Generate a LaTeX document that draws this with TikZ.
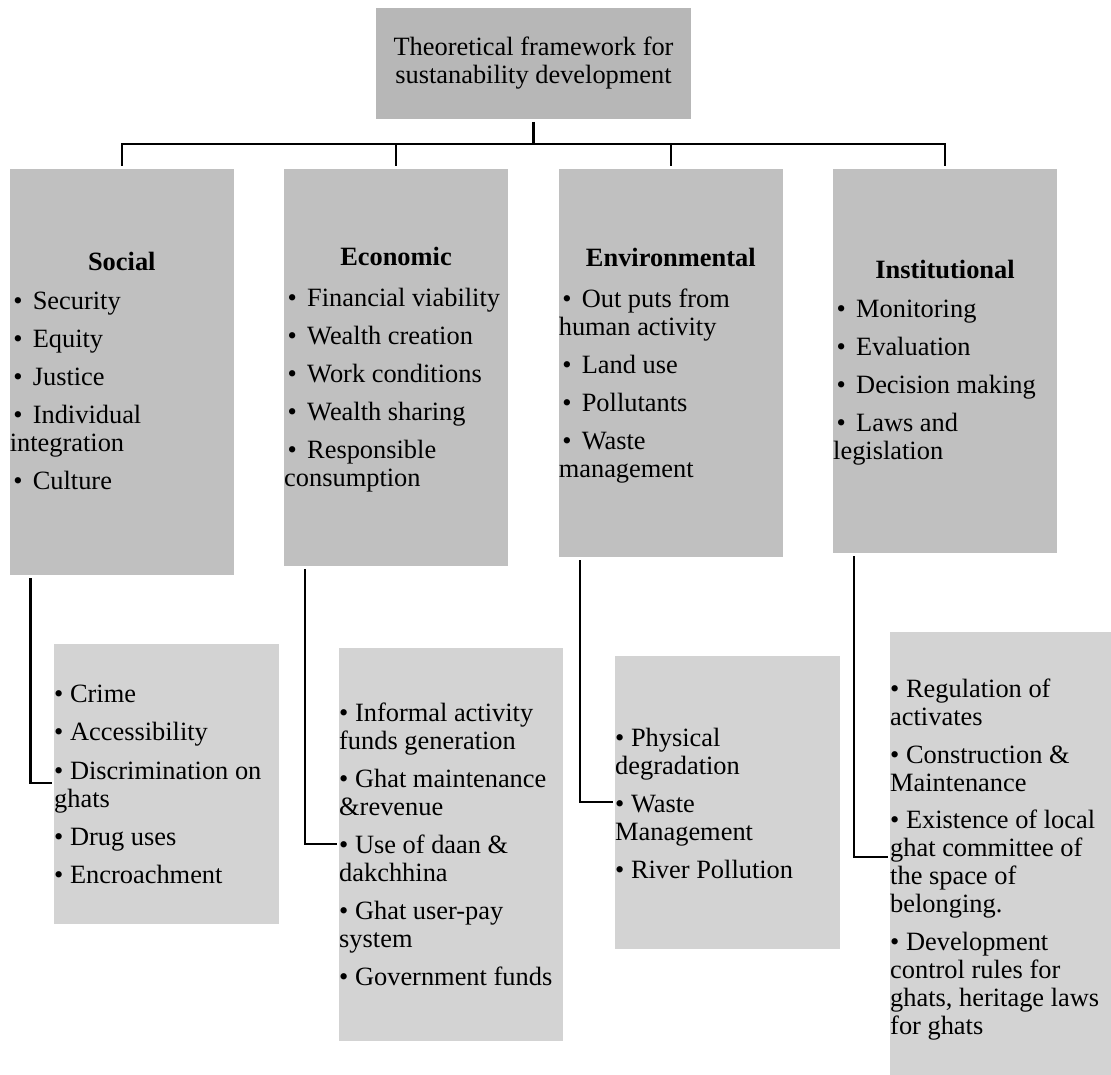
\documentclass[tikz,border=0pt]{standalone}
\usepackage{fontspec}
\setmainfont{Liberation Serif}
\definecolor{topgray}{HTML}{B7B7B7}
\definecolor{maingray}{HTML}{C0C0C0}
\definecolor{subgray}{HTML}{D3D3D3}
\newcommand\fsz{\fontsize{26.4}{28}\selectfont}
\newcommand\mbul{\makebox[23pt][l]{\hspace{3.5pt}•}}
\tikzset{
  topbox/.style={fill=topgray, inner sep=0pt, outer sep=0pt, align=center, font=\fsz},
  mainbox/.style={fill=maingray, inner sep=0pt, outer sep=0pt, anchor=north west},
  subbox/.style={fill=subgray, inner sep=0pt, outer sep=0pt, anchor=north west},
  ttl/.style={font=\fsz\bfseries, anchor=base, inner sep=0pt},
  items/.style={font=\fsz, align=left, anchor=north west, inner sep=0pt},
  conn/.style={line width=2.4pt, draw=black},
}
\begin{document}
\begin{tikzpicture}[x=1pt,y=-1pt]
\useasboundingbox (0,0) rectangle (1111,1075);
% top
\node[topbox, minimum width=315pt, minimum height=111pt] (top) at (533.5,63.5)
  {Theoretical framework for\\sustanability development};
% main boxes
\node[mainbox, minimum width=224.4pt, minimum height=406pt] (social) at (9.6,169) {};
\node[mainbox, minimum width=224pt, minimum height=397pt] (econ) at (284,169) {};
\node[mainbox, minimum width=224.4pt, minimum height=388pt] (env) at (558.6,169) {};
\node[mainbox, minimum width=224pt, minimum height=384pt] (inst) at (833,169) {};
% sub boxes
\node[subbox, minimum width=225pt, minimum height=280pt] (socsub) at (54,644) {};
\node[subbox, minimum width=224pt, minimum height=393pt] (econsub) at (339,648) {};
\node[subbox, minimum width=225pt, minimum height=293pt] (envsub) at (615,656) {};
\node[subbox, minimum width=221pt, minimum height=443pt] (instsub) at (890,632) {};
% titles
\node[ttl] (socialT) at (121.8,271) {Social};
\node[ttl] (econT) at (396,266) {Economic};
\node[ttl] (envT) at (670.8,267) {Environmental};
\node[ttl] (instT) at (945,279) {Institutional};
% main items
\node[items] (socialI) at (9.6,289.4) {\strut\mbul Security\\[10pt]\mbul Equity\\[10pt]\mbul Justice\\[10pt]\mbul Individual\\integration\\[10pt]\mbul Culture};
\node[items] (econI) at (284,286.4) {\strut\mbul Financial viability\\[10pt]\mbul Wealth creation\\[10pt]\mbul Work conditions\\[10pt]\mbul Wealth sharing\\[10pt]\mbul Responsible\\consumption};
\node[items] (envI) at (558.6,287.4) {\strut\mbul Out puts from\\human activity\\[10pt]\mbul Land use\\[10pt]\mbul Pollutants\\[10pt]\mbul Waste\\management};
\node[items] (instI) at (833,297.4) {\strut\mbul Monitoring\\[10pt]\mbul Evaluation\\[10pt]\mbul Decision making\\[10pt]\mbul Laws and\\legislation};
% sub items
\node[items] (socsubI) at (54,682.4) {\strut• Crime\\[10.5pt]• Accessibility\\[10.5pt]• Discrimination on\\ghats\\[10.5pt]• Drug uses\\[10pt]• Encroachment};
\node[items] (econsubI) at (339,701.4) {\strut• Informal activity\\funds generation\\[10.5pt]• Ghat maintenance\\\&revenue\\[10pt]• Use of daan \&\\dakchhina\\[10pt]• Ghat user-pay\\system\\[10pt]• Government funds};
\node[items] (envsubI) at (615,726.4) {\strut• Physical\\degradation\\[10pt]• Waste\\Management\\[10pt]• River Pollution};
\node[items] (instsubI) at (890,677.4) {\strut• Regulation of\\activates\\[10pt]• Construction \&\\Maintenance\\[9pt]• Existence of local\\ghat committee of\\the space of\\belonging.\\[10pt]• Development\\control rules for\\ghats, heritage laws\\for ghats};
% top connectors
\coordinate (bus) at (533.5,144);
\draw[conn] ([yshift=-3pt]top.south) -- (top.south |- bus);
\draw[conn] ([yshift=3pt]social.north) -- (social.north |- bus) -- (inst.north |- bus) -- ([yshift=3pt]inst.north);
\draw[conn] (econ.north |- bus) -- ([yshift=3pt]econ.north);
\draw[conn] (env.north |- bus) -- ([yshift=3pt]env.north);
% side connectors
\coordinate (sj) at (0,783);
\coordinate (ej) at (0,844);
\coordinate (nj) at (0,802);
\coordinate (ij) at (0,857);
\draw[conn] ([xshift=21pt,yshift=-3pt]social.south west) |- ([xshift=-2pt]socsub.west |- sj);
\draw[conn] ([xshift=21pt,yshift=-3pt]econ.south west) |- ([xshift=-2pt]econsub.west |- ej);
\draw[conn] ([xshift=21.4pt,yshift=-3pt]env.south west) |- ([xshift=-2pt]envsub.west |- nj);
\draw[conn] ([xshift=21pt,yshift=-3pt]inst.south west) |- ([xshift=-2pt]instsub.west |- ij);
\end{tikzpicture}
\end{document}
